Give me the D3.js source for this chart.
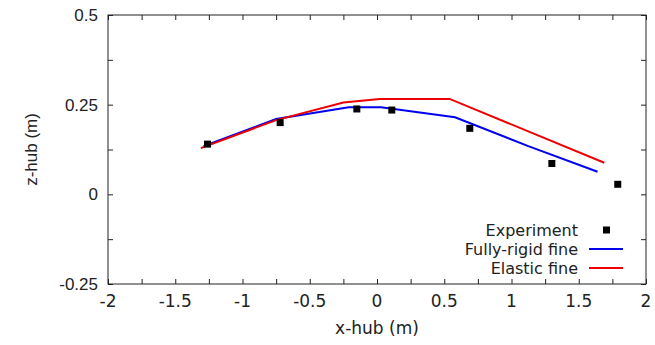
<!DOCTYPE html>
<html>
<head>
<meta charset="utf-8">
<script src="https://cdn.jsdelivr.net/npm/d3@7"></script>
<style>
  body { margin: 0; background: #fff; }
  text { font-family: "DejaVu Sans", sans-serif; fill: #222; }
  .ylab { font-family: "Liberation Sans", sans-serif; }
</style>
</head>
<body>
<div id="chart"></div>
<script>
// experiment points (x-hub, z-hub)
const expX = [-1.26, -0.72, -0.15, 0.11, 0.69, 1.30, 1.79];
const expZ = [0.140, 0.200, 0.238, 0.235, 0.184, 0.086, 0.028];

// fully-rigid fine
const rigidX = [-1.29, -0.75, -0.21, 0.03, 0.58, 1.12, 1.64];
const rigidZ = [0.134, 0.210, 0.243, 0.243, 0.215, 0.135, 0.063];

// elastic fine
const elasticX = [-1.31, -0.75, -0.25, 0.02, 0.54, 1.69];
const elasticZ = [0.129, 0.207, 0.256, 0.266, 0.266, 0.088];

const xTicks = [-2, -1.5, -1, -0.5, 0, 0.5, 1, 1.5, 2];
const yTicks = [-0.25, 0, 0.25, 0.5];
const legendNames = ["Experiment", "Fully-rigid fine", "Elastic fine"];

const W = 655, H = 345;
const margin = {top: 15, right: 9, bottom: 61, left: 108};

const svg = d3.select("#chart").append("svg")
    .attr("width", W)
    .attr("height", H);

let x = d3.scaleLinear().domain([-2, 2]).range([margin.left, W - margin.right]);
let y = d3.scaleLinear().domain([-0.25, 0.5]).range([H - margin.bottom, margin.top]);

// ticks on all four sides, pointing in
const xMinor = d3.range(-2, 2.001, 0.25);
const yMinor = d3.range(-0.25, 0.5001, 0.125);
const tickLen = 5;

svg.append("g")
    .attr("transform", `translate(0,${y(-0.25)})`)
    .call(d3.axisBottom(x).tickValues(xMinor).tickSize(-tickLen).tickFormat(""))
    .call(g => g.select(".domain").remove());
svg.append("g")
    .attr("transform", `translate(0,${y(0.5)})`)
    .call(d3.axisTop(x).tickValues(xMinor).tickSize(-tickLen).tickFormat(""))
    .call(g => g.select(".domain").remove());
svg.append("g")
    .attr("transform", `translate(${x(-2)},0)`)
    .call(d3.axisLeft(y).tickValues(yMinor).tickSize(-tickLen).tickFormat(""))
    .call(g => g.select(".domain").remove());
svg.append("g")
    .attr("transform", `translate(${x(2)},0)`)
    .call(d3.axisRight(y).tickValues(yMinor).tickSize(-tickLen).tickFormat(""))
    .call(g => g.select(".domain").remove());

svg.selectAll(".tick line").attr("stroke", "#222");

// tick labels
svg.append("g").selectAll("text").data(xTicks).enter()
    .append("text")
    .attr("x", d => x(d))
    .attr("y", y(-0.25) + 23)
    .attr("text-anchor", "middle")
    .style("font-size", "17px")
    .text(d => d);

svg.append("g").selectAll("text").data(yTicks).enter()
    .append("text")
    .attr("class", "ylab")
    .attr("x", x(-2) - 10)
    .attr("y", d => y(d) + 6)
    .attr("text-anchor", "end")
    .style("font-size", "17px")
    .text(d => d);

// frame
svg.append("rect")
    .attr("x", x(-2))
    .attr("y", y(0.5))
    .attr("width", x(2) - x(-2))
    .attr("height", y(-0.25) - y(0.5))
    .attr("fill", "none")
    .attr("stroke", "#222")
    .attr("stroke-width", 1);

let line = d3.line().x(d => x(d[0])).y(d => y(d[1]));

svg.append("path")
    .datum(d3.zip(rigidX, rigidZ))
    .attr("d", line)
    .attr("fill", "none")
    .attr("stroke", "#0000ee")
    .attr("stroke-width", 2);

svg.append("path")
    .datum(d3.zip(elasticX, elasticZ))
    .attr("d", line)
    .attr("fill", "none")
    .attr("stroke", "#ee0000")
    .attr("stroke-width", 2);

svg.append("g").selectAll("rect").data(d3.zip(expX, expZ)).enter()
    .append("rect")
    .attr("x", d => x(d[0]) - 3.5)
    .attr("y", d => y(d[1]) - 3.5)
    .attr("width", 7)
    .attr("height", 7)
    .attr("fill", "#000");

// legend
const legX = 578, legY = [230, 249, 268];
const leg = svg.append("g");
leg.selectAll("text").data(legendNames).enter()
    .append("text")
    .attr("x", legX)
    .attr("y", (d, i) => legY[i] + 6)
    .attr("text-anchor", "end")
    .style("font-size", "16px")
    .text(d => d);
leg.append("rect")
    .attr("x", 603).attr("y", legY[0] - 3.5)
    .attr("width", 7).attr("height", 7)
    .attr("fill", "#000");
leg.append("line")
    .attr("x1", 589).attr("x2", 623)
    .attr("y1", legY[1]).attr("y2", legY[1])
    .attr("stroke", "#0000ee").attr("stroke-width", 2);
leg.append("line")
    .attr("x1", 589).attr("x2", 623)
    .attr("y1", legY[2]).attr("y2", legY[2])
    .attr("stroke", "#ee0000").attr("stroke-width", 2);

// axis titles
svg.append("text")
    .attr("x", (x(-2) + x(2)) / 2)
    .attr("y", 334)
    .attr("text-anchor", "middle")
    .style("font-size", "17px")
    .text("x-hub (m)");

svg.append("text")
    .attr("class", "ylab")
    .attr("transform", `translate(37, ${(y(0.5) + y(-0.25)) / 2}) rotate(-90)`)
    .attr("text-anchor", "middle")
    .style("font-size", "17px")
    .text("z-hub (m)");
</script>
</body>
</html>
